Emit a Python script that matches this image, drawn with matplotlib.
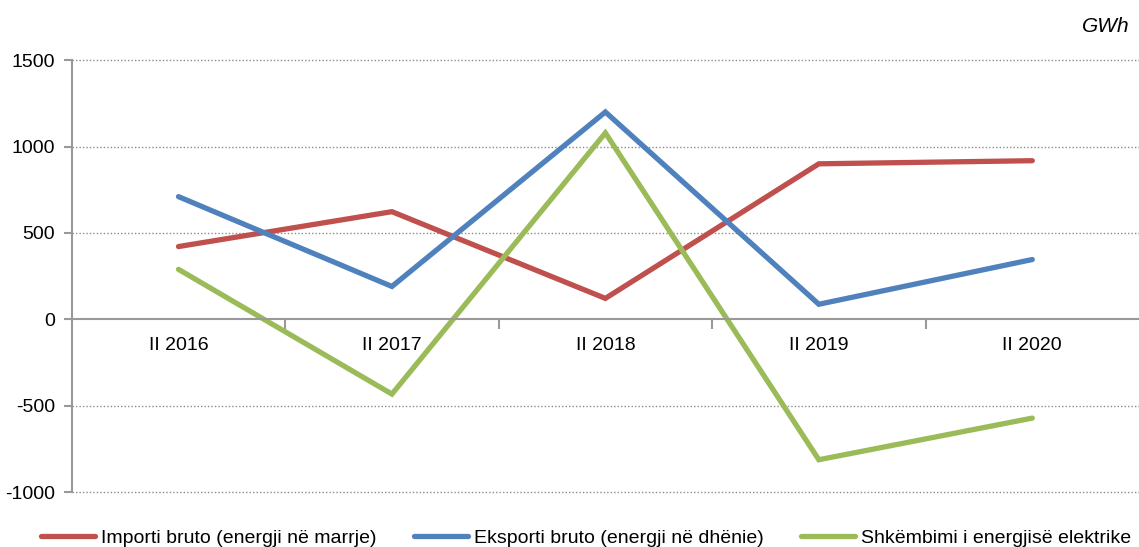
import matplotlib
matplotlib.use("Agg")
import matplotlib.pyplot as plt
from matplotlib.ticker import FixedLocator

plt.rcParams['font.family'] = ['Liberation Sans', 'DejaVu Sans']

categories = ["II 2016", "II 2017", "II 2018", "II 2019", "II 2020"]
importi = [421, 623, 121, 900, 918]
eksporti = [710, 190, 1200, 87, 346]
shkembimi = [289, -433, 1079, -813, -572]
labels = ["Importi bruto (energji në marrje)", "Eksporti bruto (energji në dhënie)",
          "Shkëmbimi i energjisë elektrike"]
colors = ["#C0504D", "#4F81BD", "#9BBB59"]
yticks = [-1000, -500, 0, 500, 1000, 1500]

fig = plt.figure(figsize=(11.39, 5.47), dpi=100)
ax = fig.add_axes([0.063, 0.1005, 0.937, 0.7895])

x = list(range(len(categories)))
for vals, lab, c in zip([importi, eksporti, shkembimi], labels, colors):
    ax.plot(x, vals, color=c, lw=3.8, label=lab, solid_capstyle='round', solid_joinstyle='miter')

ax.set_xlim(-0.5, 4.5)
ax.set_ylim(-1000, 1500)
ax.set_yticks(yticks)
ax.set_yticklabels([str(v) for v in yticks])
for v in yticks:
    if v != 0:
        ax.axhline(v, color='#8c8c8c', lw=1.0, ls=(0, (1, 1.5)), zorder=0, clip_on=False)

for s in ['top', 'right']:
    ax.spines[s].set_visible(False)
ax.spines['bottom'].set_position(('data', 0))
ax.spines['bottom'].set_color('#999999')
ax.spines['bottom'].set_linewidth(1.5)
ax.spines['left'].set_color('#999999')
ax.spines['left'].set_linewidth(1.5)

ax.set_xticks(x)
ax.set_xticklabels(categories)
ax.xaxis.set_minor_locator(FixedLocator([0.5, 1.5, 2.5, 3.5]))
ax.tick_params(axis='x', which='major', length=0, pad=13, labelsize=14)
ax.tick_params(axis='x', which='minor', length=7, width=1.5, color='#999999', direction='out')
ax.tick_params(axis='y', which='major', length=6, width=1.5, color='#999999', labelsize=14, pad=6)

fig.text(0.992, 0.952, "GWh", ha='right', va='center', fontsize=15, style='italic')

fig.legend(loc='center left', bbox_to_anchor=(0.036, 0.016), ncol=3, frameon=False,
           fontsize=14, handlelength=2.8, handletextpad=0.3, columnspacing=1.9,
           borderaxespad=0, borderpad=0)

fig.savefig("out.png", dpi=100)
